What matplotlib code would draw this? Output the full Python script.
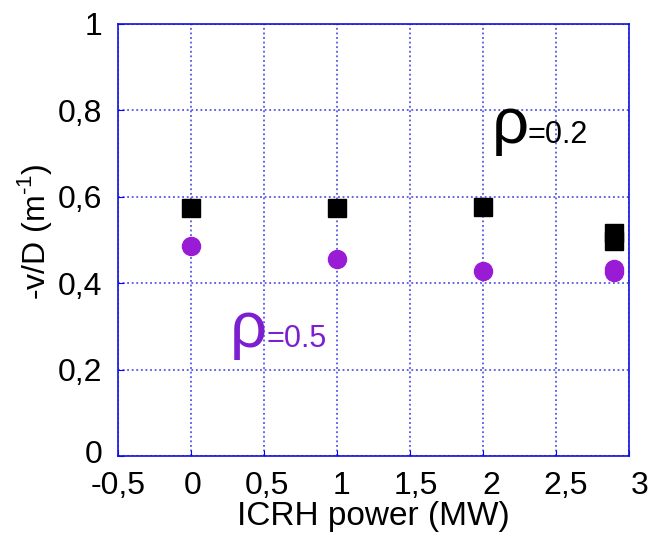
import matplotlib
matplotlib.use('Agg')
import matplotlib.pyplot as plt
import matplotlib.transforms as mtransforms

plt.rcParams['font.family'] = ['Liberation Sans', 'DejaVu Sans']
plt.rcParams['mathtext.fontset'] = 'custom'
plt.rcParams['mathtext.rm'] = 'Liberation Sans'

# ICRH power (MW) and -v/D values
power_02 = [0.0, 1.0, 2.0, 2.9, 2.9]
vd_02 = [0.574, 0.573, 0.576, 0.516, 0.498]

power_05 = [0.0, 1.0, 2.0, 2.9, 2.9]
vd_05 = [0.486, 0.456, 0.429, 0.432, 0.427]

xticks = [-0.5, 0, 0.5, 1, 1.5, 2, 2.5, 3]
xtick_labels = ['-0,5', '0', '0,5', '1', '1,5', '2', '2,5', '3']
yticks = [0, 0.2, 0.4, 0.6, 0.8, 1]
ytick_labels = ['0', '0,2', '0,4', '0,6', '0,8', '1']

grid_blue = '#3a3ae0'
purple = '#9a1bd6'
purple_text = '#7b1fd0'

fig = plt.figure(figsize=(6.55, 5.33), dpi=100)
ax = fig.add_axes([0.180, 0.1445, 0.780, 0.8105])

ax.plot(power_02, vd_02, 's', color='black', markersize=13, zorder=3)
ax.plot(power_05, vd_05, 'o', color=purple, markersize=13, zorder=3)

ax.set_xlim(-0.5, 3)
ax.set_ylim(0, 1)
ax.set_xticks(xticks)
ax.set_xticklabels(xtick_labels)
ax.set_yticks(yticks)
ax.set_yticklabels(ytick_labels)
ax.tick_params(labelsize=23, direction='in', length=4, color='blue')
ax.tick_params(axis='x', pad=11)
ax.tick_params(axis='y', pad=11)

# labels in the original drift slightly to the right along x
for tk, xv in zip(ax.xaxis.get_major_ticks(), xticks):
    lab = tk.label1
    lab.set_transform(lab.get_transform() +
                      mtransforms.ScaledTranslation((xv + 0.5) * 3.2 / 100, 0, fig.dpi_scale_trans))
lab0 = ax.yaxis.get_major_ticks()[0].label1
lab0.set_transform(lab0.get_transform() +
                   mtransforms.ScaledTranslation(0, 4 / 100, fig.dpi_scale_trans))

ax.grid(True, color=grid_blue, linestyle=(0, (1.2, 1.8)), linewidth=1.1)
for s in ax.spines.values():
    s.set_color('#1010e0')
    s.set_linewidth(1.2)

ax.set_xlabel('ICRH power (MW)', fontsize=24, labelpad=0)
ax.set_ylabel(r'-v/D (m$^{\text{-}1}$)', fontsize=23)
ax.yaxis.set_label_coords(-0.125, 0.52)

# rho labels
ax.text(2.06, 0.725, 'ρ', fontsize=47, color='black', va='baseline')
ax.annotate('=0.2', xy=(2.06, 0.725), xytext=(26, 0), textcoords='offset points',
            fontsize=22, color='black', va='baseline')
ax.text(0.267, 0.252, 'ρ', fontsize=47, color=purple_text, va='baseline')
ax.annotate('=0.5', xy=(0.267, 0.252), xytext=(26.5, 0), textcoords='offset points',
            fontsize=22, color=purple_text, va='baseline')

fig.savefig('out.png', dpi=100)
